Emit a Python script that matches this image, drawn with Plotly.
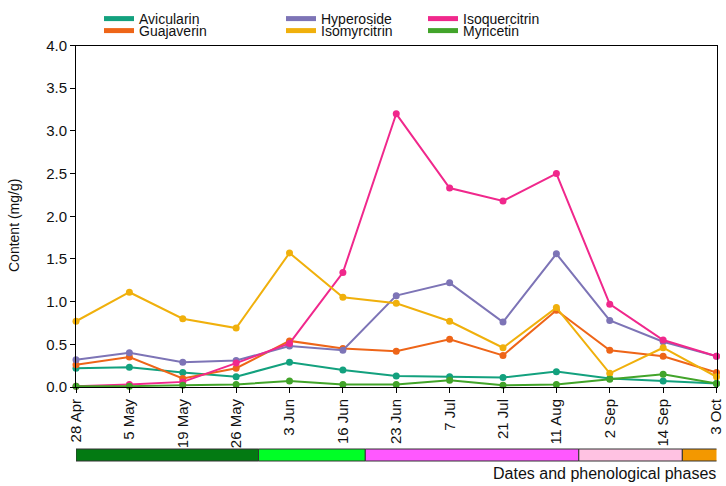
import plotly.graph_objects as go

dates = ["28 Apr", "5 May", "19 May", "26 May", "3 Jun", "16 Jun", "23 Jun",
         "7 Jul", "21 Jul", "11 Aug", "2 Sep", "14 Sep", "3 Oct"]

avicularin = [0.22, 0.23, 0.17, 0.12, 0.29, 0.20, 0.13, 0.12, 0.11, 0.18, 0.10, 0.07, 0.04]
guajaverin = [0.26, 0.35, 0.10, 0.22, 0.54, 0.45, 0.42, 0.56, 0.37, 0.90, 0.43, 0.36, 0.17]
hyperoside = [0.32, 0.40, 0.29, 0.31, 0.48, 0.43, 1.07, 1.22, 0.76, 1.56, 0.78, 0.53, 0.36]
isoquercitrin = [0.01, 0.03, 0.06, 0.28, 0.51, 1.34, 3.20, 2.33, 2.18, 2.50, 0.97, 0.55, 0.36]
isomyrcitrin = [0.77, 1.11, 0.80, 0.69, 1.57, 1.05, 0.98, 0.77, 0.46, 0.93, 0.16, 0.46, 0.12]
myricetin = [0.01, 0.01, 0.02, 0.03, 0.07, 0.03, 0.03, 0.08, 0.02, 0.03, 0.09, 0.15, 0.04]

# phenological phases, edges in category-index units
phase_edges = [0, 3.42, 5.42, 9.42, 11.36, 12.03]
phase_colors = ["#037a12", "#00ff26", "#ff58ff", "#ffc2e2", "#f39800"]

series = [
    ("Avicularin", avicularin, "#13a17e"),
    ("Guajaverin", guajaverin, "#ee6518"),
    ("Hyperoside", hyperoside, "#7d74b6"),
    ("Isoquercitrin", isoquercitrin, "#f0288c"),
    ("Isomyrcitrin", isomyrcitrin, "#f0b00c"),
    ("Myricetin", myricetin, "#42a42a"),
]

W, H = 726, 486
# everything placed in paper coords, margins zero, plot area set by domains
px = lambda x: x / W
py = lambda y: (H - y) / H

fig = go.Figure()

for name, vals, col in series:
    fig.add_trace(go.Scatter(x=dates, y=vals, mode="lines+markers", name=name,
                             line=dict(color=col, width=2), marker=dict(color=col, size=7),
                             cliponaxis=False, showlegend=False))

# legend: one tiny legend per entry so they form the 3x2 grid
leg_pos = {
    "Avicularin": (99, 19), "Guajaverin": (99, 31),
    "Hyperoside": (281, 19), "Isomyrcitrin": (281, 31),
    "Isoquercitrin": (423, 19), "Myricetin": (423, 31),
}
legends = {}
for i, (name, vals, col) in enumerate(series):
    key = "legend" if i == 0 else "legend%d" % (i + 1)
    fig.add_trace(go.Scatter(x=[None], y=[None], mode="lines", name=name,
                             line=dict(color=col, width=5), legend=key))
    lx, ly = leg_pos[name]
    legends[key] = dict(x=px(lx), y=py(ly), xanchor="left", yanchor="middle",
                        bgcolor="rgba(0,0,0,0)", itemwidth=30,
                        font=dict(size=14, color="#111"))

for i, c in enumerate(phase_colors):
    fig.add_shape(type="rect", xref="x", yref="paper",
                  x0=phase_edges[i], x1=phase_edges[i + 1], y0=py(461), y1=py(449),
                  fillcolor=c, line=dict(color="#333", width=1))

fig.add_annotation(text="Dates and phenological phases", xref="paper", yref="paper",
                   x=px(718), y=py(473), xanchor="right", yanchor="middle", showarrow=False,
                   font=dict(size=16, color="#111"))
fig.add_annotation(text="Content (mg/g)", xref="paper", yref="paper",
                   x=px(14), y=py(226), textangle=-90, xanchor="center", yanchor="middle",
                   showarrow=False, font=dict(size=14, color="#111"))

fig.update_layout(
    width=W, height=H,
    margin=dict(l=0, r=0, t=0, b=0),
    plot_bgcolor="white", paper_bgcolor="white",
    font=dict(family="Liberation Sans, Arial", size=14, color="#111"),
    **legends,
)
fig.update_xaxes(type="category", range=[0, 12], domain=[px(76), px(716.5)],
                 showgrid=False, showline=True, automargin=False,
                 linecolor="black", linewidth=1, mirror=True, ticks="outside",
                 ticklen=5, tickcolor="black", tickangle=-90, zeroline=False,
                 tickfont=dict(size=15))
fig.update_yaxes(range=[0, 4], dtick=0.5, tickformat=".1f", domain=[py(387), py(45.5)],
                 showgrid=False, automargin=False,
                 showline=True, linecolor="black", linewidth=1, mirror=True,
                 ticks="outside", ticklen=5, tickcolor="black", zeroline=False,
                 tickfont=dict(size=15))

# the page body has a default 8px margin; drop it so the figure fills the window
fig.write_html("out.html", config={"displayModeBar": False},
               post_script="document.body.style.margin='0';")
